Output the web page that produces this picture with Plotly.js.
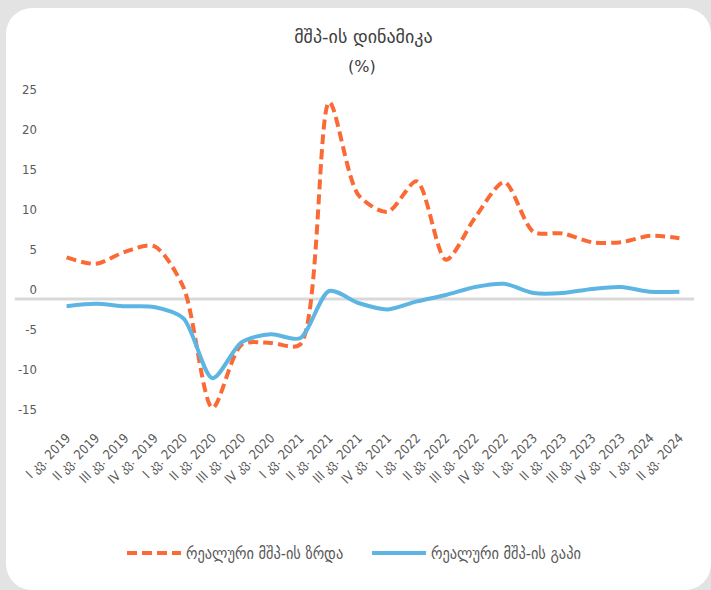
<!DOCTYPE html>
<html>
<head>
<meta charset="utf-8">
<script src="https://cdn.plot.ly/plotly-3.0.1.min.js"></script>
<style>
  html, body { margin: 0; padding: 0; background: #e3e3e3; width: 711px; height: 590px; overflow: hidden; }
  #card { position: absolute; left: 6px; top: 8px; width: 705px; height: 582px; background: #ffffff; border-radius: 26px; overflow: hidden; }
  #chart { width: 705px; height: 582px; }
</style>
</head>
<body>
<div id="card"><div id="chart"></div></div>
<script>
const categories = [
  "I კვ. 2019", "II კვ. 2019", "III კვ. 2019", "IV კვ. 2019",
  "I კვ. 2020", "II კვ. 2020", "III კვ. 2020", "IV კვ. 2020",
  "I კვ. 2021", "II კვ. 2021", "III კვ. 2021", "IV კვ. 2021",
  "I კვ. 2022", "II კვ. 2022", "III კვ. 2022", "IV კვ. 2022",
  "I კვ. 2023", "II კვ. 2023", "III კვ. 2023", "IV კვ. 2023",
  "I კვ. 2024", "II კვ. 2024"
];
const realGdpGrowth = [
  5.2, 4.4, 5.9, 6.6,
  1.5, -13.6, -5.7, -5.5,
  -5.7, 24.6, 13.0, 10.9,
  14.7, 4.9, 10.2, 14.6,
  8.4, 8.2, 7.1, 7.1,
  7.9, 7.6
];
const realGdpGap = [
  -0.9, -0.6, -0.9, -1.0,
  -2.4, -9.9, -5.4, -4.4,
  -4.9, 1.0, -0.5, -1.3,
  -0.3, 0.5, 1.5, 1.9,
  0.75, 0.75, 1.25, 1.5,
  0.9, 0.9
];
const yTickValues = [-15, -10, -5, 0, 5, 10, 15, 20, 25];
const yTickLabels = ["-15", "-10", "-5", "0", "5", "10", "15", "20", "25"];
const seriesNames = ["რეალური მშპ-ის ზრდა", "რეალური მშპ-ის გაპი"];
const chartTitle = "მშპ-ის დინამიკა";
const chartUnit = "(%)";

const FONT = "'DejaVu Sans Condensed', 'DejaVu Sans', sans-serif";
const TXT = "#595959";

const traces = [
  {
    x: categories, y: realGdpGrowth, name: seriesNames[0],
    type: "scatter", mode: "lines",
    line: { color: "#FB6A35", width: 4, dash: "10px,5px", shape: "spline", smoothing: 0.8 }
  },
  {
    x: categories, y: realGdpGap, name: seriesNames[1],
    type: "scatter", mode: "lines",
    line: { color: "#5DB5E3", width: 4, shape: "spline", smoothing: 0.8 }
  }
];

const layout = {
  width: 705, height: 582,
  paper_bgcolor: "rgba(0,0,0,0)",
  plot_bgcolor: "rgba(0,0,0,0)",
  margin: { l: 46, r: 17, t: 83, b: 163, autoexpand: false },
  font: { family: FONT, color: TXT, size: 12 },
  title: {
    text: chartTitle,
    font: { family: "'DejaVu Sans', sans-serif", size: 18, color: "#404040" },
    x: 0.507, xref: "container", xanchor: "center",
    y: 1 - 29 / 582, yref: "container", yanchor: "middle"
  },
  annotations: [{
    text: chartUnit, xref: "paper", yref: "paper", showarrow: false,
    x: (362 - 52) / 642, xanchor: "center",
    y: 1 + (83 - 58) / 336, yanchor: "middle",
    font: { family: "'DejaVu Sans', sans-serif", size: 16, color: "#404040" }
  }],
  showlegend: true,
  legend: {
    orientation: "h", xref: "container", x: 116 / 705, xanchor: "left",
    yref: "container", y: 1 - 545 / 582, yanchor: "middle",
    font: { family: FONT, size: 16, color: TXT }, itemwidth: 54,
    entrywidth: 176, entrywidthmode: "pixels"
  },
  xaxis: {
    type: "category", range: [-0.5, categories.length - 0.5],
    showgrid: false, zeroline: false, showline: false, ticks: "",
    tickangle: -45, tickfont: { family: FONT, size: 13, color: TXT }
  },
  yaxis: {
    range: [-16, 26], tickmode: "array", tickvals: yTickValues, ticktext: yTickLabels,
    showgrid: false, zeroline: false, showline: false, ticks: "",
    ticklabelshift: -10, ticklabelstandoff: 14,
    tickfont: { family: FONT, size: 13, color: TXT }
  },
  shapes: [{
    type: "line", xref: "paper", yref: "y", x0: -0.058, x1: 1.0, y0: 0, y1: 0,
    line: { color: "#D9D9D9", width: 3 }, layer: "below"
  }]
};

Plotly.newPlot("chart", traces, layout, { displayModeBar: false, staticPlot: true });
</script>
</body>
</html>
